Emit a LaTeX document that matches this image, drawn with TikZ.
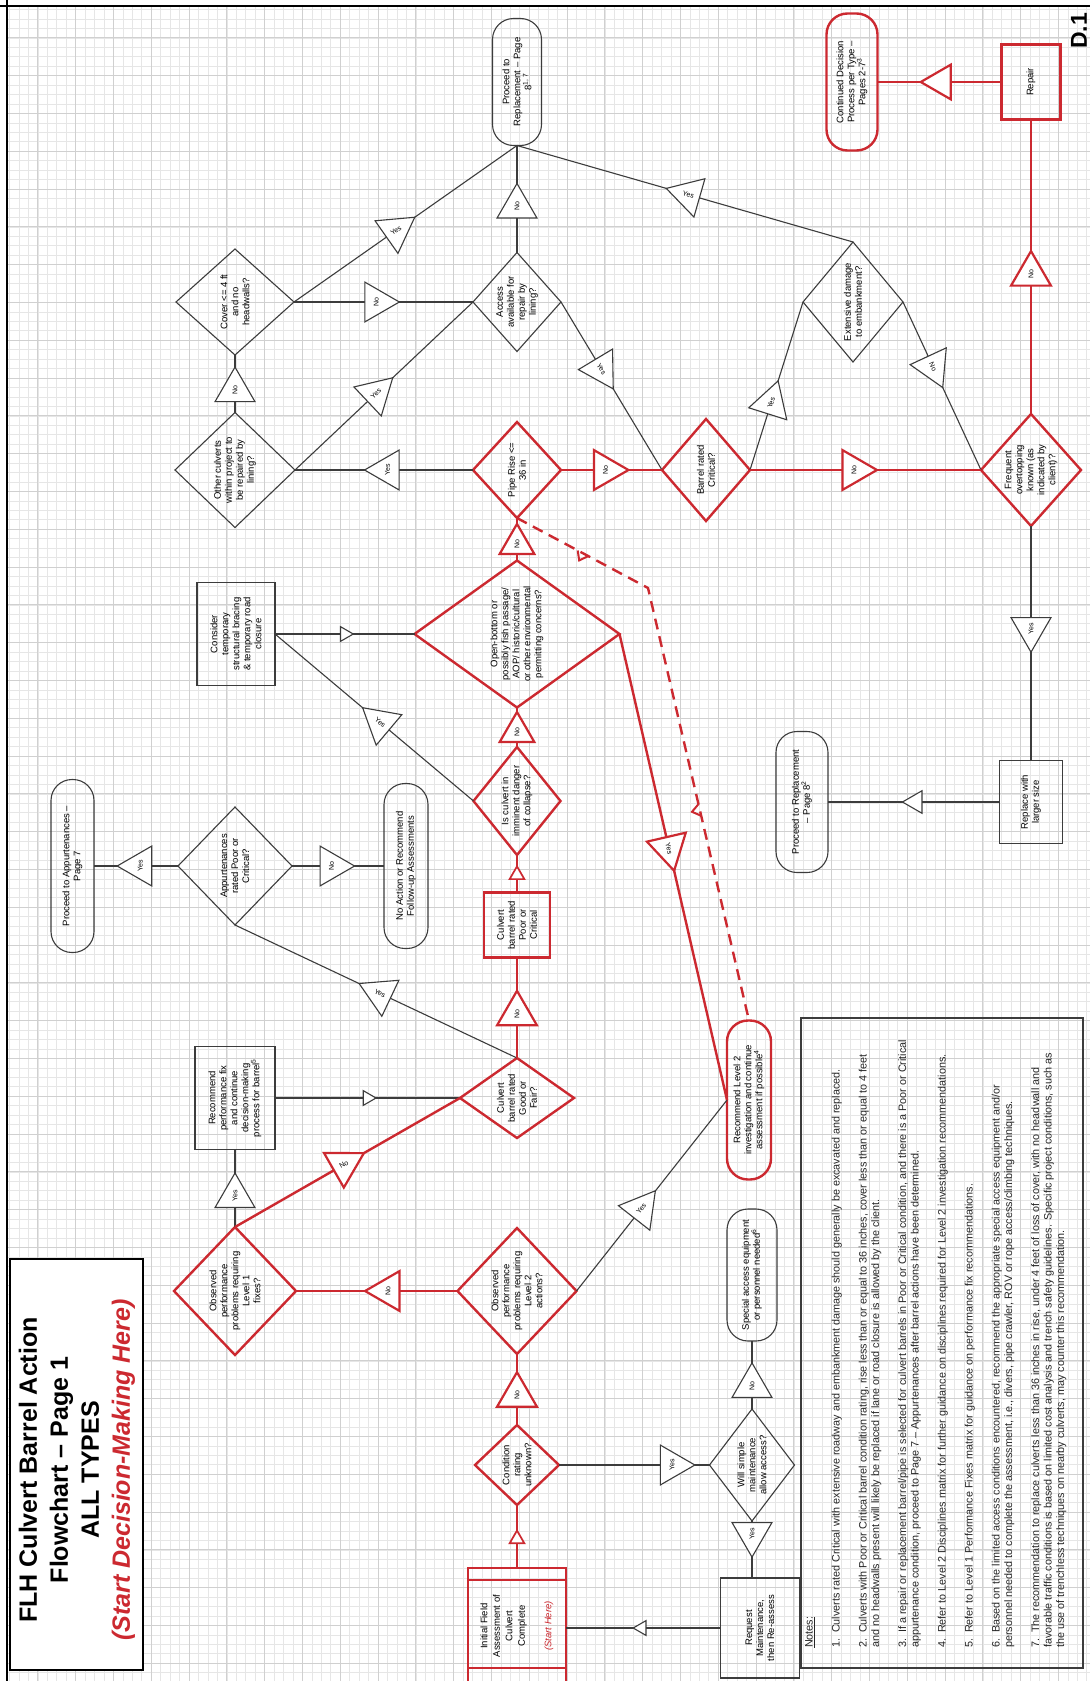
\documentclass[tikz,border=0pt]{standalone}
\usepackage{fontspec}
\setmainfont{Liberation Sans}
\usetikzlibrary{shapes.geometric}
\definecolor{rc}{RGB}{204,41,48}
\definecolor{lc}{RGB}{60,60,60}
\definecolor{gmin}{RGB}{230,230,230}
\definecolor{gmaj}{RGB}{208,208,208}
\newcommand{\nfont}{\fontsize{9.5}{11}\selectfont}
\newcommand{\tfont}{\fontsize{7}{7.5}\selectfont}
\newcommand{\notefont}{\fontsize{10.8}{12.5}\selectfont}
\newcommand{\rlab}[2]{\rotatebox{#1}{#2}}
\begin{document}
\begin{tikzpicture}[x=1pt,y=-1pt,
  bsh/.style={draw=lc, line width=1.1pt, inner sep=0pt, outer sep=0pt},
  rsh/.style={draw=rc, line width=2.4pt, inner sep=0pt, outer sep=0pt},
  pill/.style={rounded corners=21pt},
  tx/.style={rotate=90, align=center, font=\nfont, inner sep=0pt, text=black},
  bl/.style={draw=lc, line width=1.1pt},
  rl/.style={draw=rc, line width=2.4pt},
  btri/.style={regular polygon, regular polygon sides=3, draw=lc, fill=white, line width=1.1pt, minimum size=46pt, inner sep=0pt, outer sep=0pt, font=\tfont, solid, text=black},
  rtri/.style={btri, draw=rc, line width=2.2pt},
  sb/.style={shape border rotate=#1},
  smb/.style={btri, minimum size=17pt},
  smr/.style={rtri, minimum size=17pt, line width=1.7pt},
]
\useasboundingbox (0,0) rectangle (1090,1681);
% background, grid, frame
\fill[white] (0,0) rectangle (1090,1681);
\draw[gmin, line width=0.6pt, step=9.45pt] (8,1681) grid (1090,7);
\draw[gmaj, line width=0.8pt, step=37.8pt] (8,1681) grid (1090,7);
\draw[black, line width=2.6pt] (7,0) -- (7,1681);
\draw[black, line width=2.2pt] (0,6) -- (1090,6);

% title
\node[draw=black, line width=1.4pt, fill=white, minimum width=133, minimum height=411, inner sep=0pt] (title) at (76.5,1464.5) {};
\node[rotate=90, align=center, font=\bfseries\fontsize{25}{31}\selectfont, inner sep=0pt] (titletext) at (77,1470) {FLH Culvert Barrel Action\\Flowchart -- Page 1\\ALL TYPES\\{\color{rc}\itshape (Start Decision-Making Here)}};

% D.1
\node[rotate=90, font=\bfseries\fontsize{23}{23}\selectfont, inner sep=0pt] (d1) at (1079,31) {D.1};

% notes
\node[bsh, line width=1.3pt, minimum width=282, minimum height=650] (notesbox) at (942,1343) {};
\node[rotate=90, anchor=north west, align=left, font=\notefont, inner sep=0pt, text=black!85] (notes) at (805,1648) {\underline{Notes:}\\[14.5pt]
1.\ \ Culverts rated Critical with extensive roadway and embankment damage should generally be excavated and replaced.\\[14.5pt]
2.\ \ Culverts with Poor or Critical barrel condition rating, rise less than or equal to 36 inches, cover less than or equal to 4 feet\\
and no headwalls present will likely be replaced if lane or road closure is allowed by the client.\\[14.5pt]
3.\ \ If a repair or replacement barrel/pipe is selected for culvert barrels in Poor or Critical condition, and there is a Poor or Critical\\
appurtenance condition, proceed to Page 7 -- Appurtenances after barrel actions have been determined.\\[14.5pt]
4.\ \ Refer to Level 2 Disciplines matrix for further guidance on disciplines required for Level 2 investigation recommendations.\\[14.5pt]
5.\ \ Refer to Level 1 Performance Fixes matrix for guidance on performance fix recommendations.\\[14.5pt]
6.\ \ Based on the limited access conditions encountered, recommend the appropriate special access equipment and/or\\
personnel needed to complete the assessment, i.e., divers, pipe crawler, ROV or rope access/climbing techniques.\\[14.5pt]
7.\ \ The recommendation to replace culverts less than 36 inches in rise, under 4 feet of loss of cover, with no headwall and\\
favorable traffic conditions is based on limited cost analysis and trench safety guidelines. Specific project conditions, such as\\
the use of trenchless techniques on nearby culverts, may counter this recommendation.};

% ---------- shapes ----------
\node[rsh, minimum width=98, minimum height=120] (Init) at (517,1628) {};
\draw[rl] ([yshift=-12pt]Init.north west) -- ([yshift=-12pt]Init.north east);
\draw[rl] ([yshift=20pt]Init.south west) -- ([yshift=20pt]Init.south east);
\node[tx, font=\fontsize{9.5}{12.5}\selectfont] (Init-t) at (517,1626) {Initial Field\\Assessment of\\Culvert\\Complete\\[14pt]{\color{rc}\itshape (Start Here)}};

\node[rsh, diamond, minimum width=84, minimum height=80] (Cond) at (517,1465) {};
\node[tx] (Cond-t) at (Cond) {Condition\\rating\\unknown?};

\node[rsh, diamond, minimum width=119, minimum height=126] (L2) at (517,1291) {};
\node[tx] (L2-t) at (L2) {Observed\\performance\\problems requiring\\Level 2\\actions?};

\node[rsh, diamond, minimum width=122, minimum height=128] (L1) at (235,1291) {};
\node[tx] (L1-t) at (L1) {Observed\\performance\\problems requiring\\Level 1\\fixes?};

\node[bsh, minimum width=80, minimum height=103] (Rec) at (235,1098) {};
\node[tx] (Rec-t) at (Rec) {Recommend\\performance fix\\and continue\\decision-making\\process for barrel\textsuperscript{5}};

\node[rsh, diamond, minimum width=114, minimum height=80] (GF) at (517,1098) {};
\node[tx] (GF-t) at (GF) {Culvert\\barrel rated\\Good or\\Fair?};

\node[bsh, diamond, minimum width=114, minimum height=118] (App) at (235,866) {};
\node[tx] (App-t) at (App) {Appurtenances\\rated Poor or\\Critical?};

\node[bsh, pill, minimum width=43, minimum height=173] (Pap) at (72.5,866) {};
\node[tx] (Pap-t) at (Pap) {Proceed to Appurtenances --\\Page 7};

\node[bsh, pill, minimum width=44, minimum height=165] (NoAct) at (406,866) {};
\node[tx] (NoAct-t) at (NoAct) {No Action or Recommend\\Follow-up Assessments};

\node[rsh, minimum width=66, minimum height=65] (PC) at (517,925) {};
\node[tx] (PC-t) at (PC) {Culvert\\barrel rated\\Poor or\\Critical};

\node[rsh, diamond, minimum width=87, minimum height=108] (Imm) at (517,801) {};
\node[tx] (Imm-t) at (Imm) {Is culvert in\\imminent danger\\of collapse?};

\node[bsh, minimum width=78, minimum height=103] (Cons) at (236,634) {};
\node[tx] (Cons-t) at (Cons) {Consider\\temporary\\structural bracing\\\& temporary road\\closure};

\node[rsh, diamond, minimum width=205, minimum height=147] (OB) at (517,634) {};
\node[tx] (OB-t) at (OB) {Open-bottom or\\possibly fish passage/\\AOP/ historic/cultural\\or other environmental\\permitting concerns?};

\node[rsh, diamond, minimum width=88, minimum height=96] (PR) at (517,470) {};
\node[tx] (PR-t) at (PR) {Pipe Rise <=\\36 in};

\node[bsh, diamond, minimum width=120, minimum height=115] (Oth) at (235,470) {};
\node[tx] (Oth-t) at (Oth) {Other culverts\\within project to\\be repaired by\\lining?};

\node[bsh, diamond, minimum width=118, minimum height=106] (Cov) at (235,302) {};
\node[tx] (Cov-t) at (Cov) {Cover <= 4 ft\\and no\\headwalls?};

\node[bsh, diamond, minimum width=88, minimum height=99] (Acc) at (517,302) {};
\node[tx] (Acc-t) at (Acc) {Access\\available for\\repair by\\lining?};

\node[bsh, pill, minimum width=49, minimum height=127] (P8) at (517,82) {};
\node[tx] (P8-t) at (P8) {Proceed to\\Replacement -- Page\\8\textsuperscript{1, 7}};

\node[rsh, diamond, minimum width=88, minimum height=102] (BC) at (706,470) {};
\node[tx] (BC-t) at (BC) {Barrel rated\\Critical?};

\node[bsh, diamond, minimum width=100, minimum height=120] (Ext) at (853,302) {};
\node[tx] (Ext-t) at (Ext) {Extensive damage\\to embankment?};

\node[rsh, diamond, minimum width=100, minimum height=112] (Fr) at (1031,470) {};
\node[tx] (Fr-t) at (Fr) {Frequent\\overtopping\\known (as\\indicated by\\client)?};

\node[rsh, minimum width=59, minimum height=75] (Rep) at (1031,82) {};
\node[tx] (Rep-t) at (Rep) {Repair};

\node[rsh, pill, minimum width=51, minimum height=137] (Cont) at (852,82) {};
\node[tx] (Cont-t) at (Cont) {Continued Decision\\Process per Type --\\Pages 2-7\textsuperscript{3}};

\node[bsh, minimum width=63, minimum height=83] (RL) at (1031,802) {};
\node[tx] (RL-t) at (RL) {Replace with\\larger size};

\node[bsh, pill, minimum width=52, minimum height=141] (P8b) at (802,802) {};
\node[tx] (P8b-t) at (P8b) {Proceed to Replacement\\-- Page 8\textsuperscript{2}};

\node[rsh, pill, minimum width=44, minimum height=159] (L2p) at (749,1100) {};
\node[tx] (L2p-t) at (L2p) {Recommend Level 2\\investigation and continue\\assessment if possible\textsuperscript{4}};

\node[bsh, pill, minimum width=50, minimum height=132] (Spec) at (752,1275) {};
\node[tx] (Spec-t) at (Spec) {Special access equipment\\or personnel needed\textsuperscript{6}};

\node[bsh, diamond, minimum width=85, minimum height=112] (Will) at (752,1465) {};
\node[tx] (Will-t) at (Will) {Will simple\\maintenance\\allow access?};

\node[bsh, minimum width=79, minimum height=100] (Req) at (760,1628) {};
\node[tx] (Req-t) at (Req) {Request\\Maintenance,\\then Re-assess};

% ---------- black connectors ----------
\draw[bl] (Cond.east) -- node[btri, sb=-90, pos=.75] (t1) {\rlab{90}{Yes}} (Will.west);
\draw[bl] (Will.north) -- node[btri, pos=.34] (t2) {\rlab{90}{No}} (Spec.south);
\draw[bl] (Will.south) -- node[btri, sb=180, pos=.23] (t3) {\rlab{90}{Yes}} (Will.south |- Req.north);
\draw[bl] (Req.west) -- node[smb, sb=90, pos=.51] (t4) {} (Req.west -| Init.east);
\draw[bl] (L2.east) -- node[btri, sb=-38, pos=.43] (t5) {\rlab{52}{Yes}} (L2p.west);
\draw[bl] (L1.north) -- node[btri, pos=.4] (t6) {\rlab{90}{Yes}} (Rec.south);
\draw[bl] (Rec.east) -- node[smb, sb=-90, pos=.5] (t7) {} (GF.west);
\draw[bl] (GF.north) -- node[btri, sb=64.7, pos=.486] (t8) {\rlab{-25}{Yes}} (App.south);
\draw[bl] (App.west) -- node[btri, sb=90, pos=.45] (t9) {\rlab{90}{Yes}} (Pap.east);
\draw[bl] (App.east) -- node[btri, sb=-90, pos=.43] (t10) {\rlab{90}{No}} (NoAct.west);
\draw[bl] (Imm.west) -- node[btri, sb=49.9, pos=.47] (t11) {\rlab{-40}{Yes}} (Cons.east);
\draw[bl] (Cons.east) -- node[smb, sb=-90, pos=.5] (t12) {} (OB.west);
\draw[bl] (PR.west) -- node[btri, sb=90, pos=.48] (t13) {\rlab{90}{Yes}} (Oth.east);
\draw[bl] (Oth.north) -- node[btri, pos=.39] (t14) {\rlab{90}{No}} (Cov.south);
\draw[bl] (Oth.east) -- node[btri, sb=-46.7, pos=.455] (t15) {\rlab{43}{Yes}} (Acc.west);
\draw[bl] (Cov.east) -- node[btri, sb=-90, pos=.46] (t16) {\rlab{90}{No}} (Acc.west);
\draw[bl] (Cov.east) -- node[btri, sb=-54.9, pos=.457] (t17) {\rlab{35}{Yes}} (P8.south);
\draw[bl] (Acc.north) -- node[btri, pos=.43] (t18) {\rlab{90}{No}} (P8.south);
\draw[bl] (Acc.east) -- node[btri, sb=-149, pos=.4] (t19) {\rlab{-59}{Yes}} (BC.west);
\draw[bl] (BC.east) -- node[btri, sb=-17.5, pos=.4] (t20) {\rlab{72}{Yes}} (Ext.west);
\draw[bl] (Ext.north) -- node[btri, sb=74, pos=.49] (t21) {\rlab{-16}{Yes}} (P8.south);
\draw[bl] (Ext.east) -- node[btri, sb=-155.1, pos=.385] (t22) {\rlab{-65}{No}} (Fr.west);
\draw[bl] (Fr.south) -- node[btri, sb=180, pos=.44] (t23) {\rlab{90}{Yes}} (RL.north);
\draw[bl] (RL.west) -- node[btri, sb=90, minimum size=26pt, pos=.49] (t24) {} (P8b.east);

% ---------- red connectors ----------
\draw[rl] (Init.north) -- node[smr, pos=.46] (r1) {} (Cond.south);
\draw[rl] (Cond.north) -- node[rtri, pos=.42] (r2) {\rlab{90}{No}} (L2.south);
\draw[rl] (L2.west) -- node[rtri, sb=90, pos=.43] (r3) {\rlab{90}{No}} (L1.east);
\draw[rl] (L1.north) -- node[rtri, sb=-60.2, pos=.484] (r4) {\rlab{30}{No}} (GF.west);
\draw[rl] (GF.north) -- node[rtri, pos=.44] (r5) {\rlab{90}{No}} (PC.south);
\draw[rl] (PC.north) -- node[smr, pos=.47] (r6) {} (Imm.south);
\draw[rl] (Imm.north) -- node[rtri, minimum size=40pt, pos=.38] (r7) {\rlab{90}{No}} (OB.south);
\draw[rl] (OB.north) -- node[rtri, minimum size=40pt, pos=.39] (r8) {\rlab{90}{No}} (PR.south);
\draw[rl] (PR.east) -- node[rtri, sb=-90, pos=.44] (r9) {\rlab{90}{No}} (BC.west);
\draw[rl] (BC.east) -- node[rtri, sb=-90, pos=.45] (r10) {\rlab{90}{No}} (Fr.west);
\draw[rl] (Fr.north) -- node[rtri, pos=.475] (r11) {\rlab{90}{No}} (Rep.south);
\draw[rl] (Rep.west) -- node[rtri, sb=90, minimum size=40pt, pos=.49] (r12) {} (Cont.east);
\draw[rl] (OB.east) -- node[rtri, sb=-167, pos=.46] (r13) {\rlab{-77}{Yes}} (L2p.west);

% dashed link
\coordinate (dk) at (648,588);
\draw[rc, line width=2.4pt, dash pattern=on 11pt off 7pt] (PR.south) -- (dk) -- (L2p.north);
\draw[rc, line width=2pt] (577.7,550.5) -- (579.2,560.4) -- (588.3,556.1);
\draw[rc, line width=2pt] (698.4,804.2) -- (692.0,811.8) -- (701.2,815.8);
\end{tikzpicture}
\end{document}
